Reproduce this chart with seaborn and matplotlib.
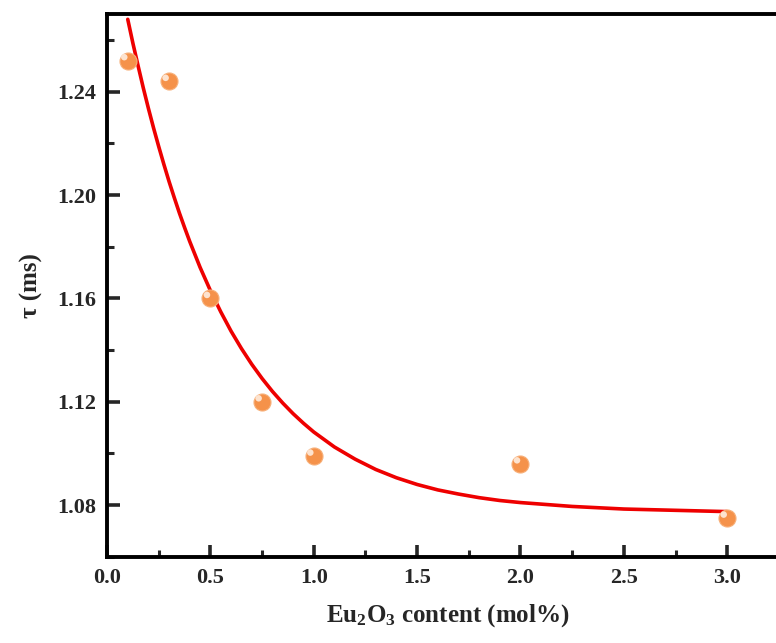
import matplotlib
matplotlib.use("Agg")
import matplotlib.pyplot as plt
import matplotlib.transforms as mtransforms
from matplotlib.ticker import MultipleLocator
import pandas as pd
import seaborn as sns

# measured lifetimes
content = [0.1, 0.3, 0.5, 0.75, 1.0, 2.0, 3.0]
tau = [1.252, 1.244, 1.160, 1.120, 1.099, 1.096, 1.075]

# fitted curve
fit_x = [0.1, 0.125, 0.15, 0.175, 0.2, 0.225, 0.25, 0.275, 0.3, 0.325, 0.35,
         0.375, 0.4, 0.45, 0.5, 0.55, 0.6, 0.65, 0.7, 0.75, 0.8, 0.85, 0.9,
         0.95, 1.0, 1.1, 1.2, 1.3, 1.4, 1.5, 1.6, 1.7, 1.8, 1.9, 2.0, 2.25,
         2.5, 2.75, 3.0]
fit_y = [1.268, 1.2587, 1.250, 1.2415, 1.2335, 1.2259, 1.2187, 1.2118, 1.2052,
         1.199, 1.193, 1.1874, 1.182, 1.172, 1.163, 1.1548, 1.1473, 1.1406,
         1.1345, 1.129, 1.124, 1.1195, 1.1154, 1.1117, 1.1083, 1.1025, 1.0978,
         1.0938, 1.0906, 1.088, 1.0859, 1.0843, 1.0829, 1.0818, 1.081, 1.0795,
         1.0785, 1.078, 1.0775]

pts = pd.DataFrame({"x": content, "y": tau})
fit = pd.DataFrame({"x": fit_x, "y": fit_y})

sns.set_style("ticks")
plt.rcParams["font.family"] = ["Liberation Serif", "DejaVu Serif"]
plt.rcParams["font.weight"] = "bold"
plt.rcParams["mathtext.fontset"] = "custom"
plt.rcParams["mathtext.rm"] = "Liberation Serif:bold"
plt.rcParams["mathtext.it"] = "Liberation Serif:bold"

fig = plt.figure(figsize=(7.76, 6.43), dpi=100)
ax = fig.add_axes([0.138, 0.134, 0.879, 0.844])

sns.lineplot(data=fit, x="x", y="y", ax=ax, color="#EE0000", lw=2.6, zorder=2)
sns.scatterplot(data=pts, x="x", y="y", ax=ax, s=150, color="#F5924A",
                edgecolor="#F7B07A", linewidth=0.8, zorder=3)
# highlight on the spheres
hl = mtransforms.offset_copy(ax.transData, fig=fig, x=-2.5, y=2.5, units="points")
ax.scatter(content, tau, s=22, color="#FDE3CF", edgecolor="none", zorder=4,
           transform=hl)

ax.set_xlim(0, 3.3)
ax.set_ylim(1.06, 1.27)
ax.xaxis.set_major_locator(MultipleLocator(0.5))
ax.xaxis.set_minor_locator(MultipleLocator(0.25))
ax.yaxis.set_minor_locator(MultipleLocator(0.02))
ax.set_yticks([1.08, 1.12, 1.16, 1.20, 1.24])
ax.set_yticklabels(["1.08", "1.12", "1.16", "1.20", "1.24"])
ax.tick_params(which="major", direction="in", length=9, width=2.6,
               labelsize=16, pad=8)
ax.tick_params(which="minor", direction="in", length=5, width=2.2)
for s in ax.spines.values():
    s.set_linewidth(2.8)
    s.set_color("black")

ax.set_xlabel(r"Eu$_2$O$_3$ content (mol%)", fontsize=18, fontweight="bold",
              labelpad=10)
ax.set_ylabel("τ (ms)", fontsize=18, fontweight="bold", labelpad=10)

fig.savefig("out.png", dpi=100)
